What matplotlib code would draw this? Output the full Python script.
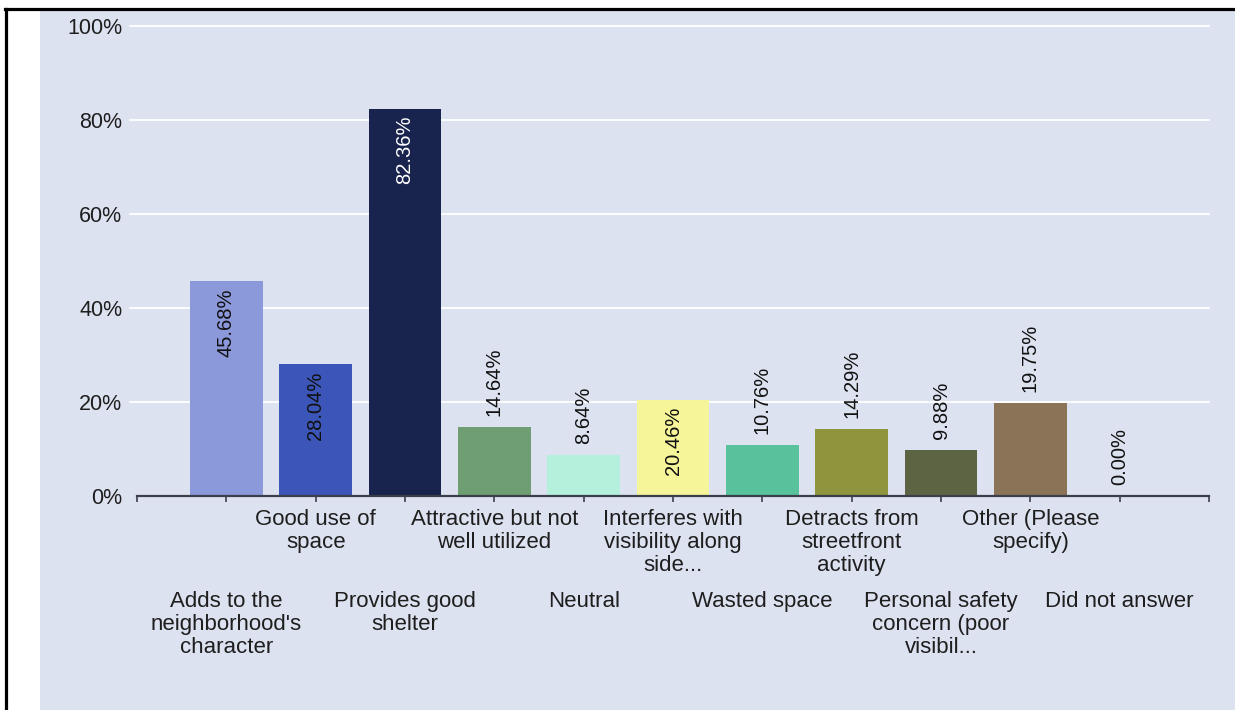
import matplotlib
matplotlib.use('Agg')
import matplotlib.pyplot as plt
import matplotlib.transforms as mtransforms
from matplotlib.patches import Rectangle
from matplotlib.lines import Line2D

categories = ["Adds to the\nneighborhood's\ncharacter", "Good use of\nspace", "Provides good\nshelter",
              "Attractive but not\nwell utilized", "Neutral", "Interferes with\nvisibility along\nside...",
              "Wasted space", "Detracts from\nstreetfront\nactivity", "Personal safety\nconcern (poor\nvisibil...",
              "Other (Please\nspecify)", "Did not answer"]
values = [45.68, 28.04, 82.36, 14.64, 8.64, 20.46, 10.76, 14.29, 9.88, 19.75, 0.00]
colors = ['#8b98da', '#3c55b8', '#18244e', '#6f9e72', '#b4f0dc', '#f7f59a',
          '#58c29d', '#8f953c', '#5c6444', '#8a7356', '#888888']
ytick_values = [0, 20, 40, 60, 80, 100]
ytick_labels = ['0%', '20%', '40%', '60%', '80%', '100%']

plt.rcParams['font.family'] = ['Liberation Sans', 'DejaVu Sans']
FS_LAB = 16
FS_Y = 15.5
FS_VAL = 14.5

W, H = 1235, 710
fig = plt.figure(figsize=(W / 100, H / 100), dpi=100)
fig.patch.set_facecolor('white')
fig.patches.append(Rectangle((40 / W, 0), 1 - 40 / W, (H - 11) / H, transform=fig.transFigure,
                             facecolor='#dde2f0', edgecolor='none', zorder=-10))
fig.lines.append(Line2D([5 / W, 1], [1 - 9 / H, 1 - 9 / H], color='black', lw=2.3,
                        transform=fig.transFigure, zorder=-5))
fig.lines.append(Line2D([6 / W, 6 / W], [0, 1 - 9 / H], color='black', lw=2.3,
                        transform=fig.transFigure, zorder=-5))

ax = fig.add_axes([137 / W, (H - 496) / H, (1209 - 137) / W, (496 - 26) / H])
ax.set_zorder(5)
ax.set_facecolor('none')
x = list(range(1, len(values) + 1))
ax.bar(x, values, width=0.81, color=colors, zorder=3)
ax.set_xlim(0, 12)
ax.set_ylim(0, 100)

for s in ['top', 'right', 'left']:
    ax.spines[s].set_visible(False)
ax.spines['bottom'].set_color('#3a3f4a')
ax.spines['bottom'].set_linewidth(1.6)
ax.spines['bottom'].set_zorder(5)

# gridlines
for yv in ytick_values[1:]:
    ax.plot([-7 / 1072 * 12, 12], [yv, yv], color='white', lw=1.3, zorder=1, clip_on=False)

ax.set_yticks(ytick_values)
ax.set_yticklabels(ytick_labels, fontsize=FS_Y, color='#1e1e1e')
ax.tick_params(axis='y', length=0, pad=10.5)

ax.set_xticks(range(0, 13))
ax.set_xticklabels([])
ax.tick_params(axis='x', length=4.5, width=1.2, color='#3a3f4a', direction='out')

trans = mtransforms.blended_transform_factory(ax.transData, ax.transAxes)
for i, lab in enumerate(categories):
    dy = -13 if i % 2 == 1 else -95
    off = mtransforms.ScaledTranslation(0, dy / 100, fig.dpi_scale_trans)
    ax.text(x[i], 0, lab, transform=trans + off, ha='center', va='top', fontsize=FS_LAB,
            color='#1e1e1e', linespacing=1.12)

for i, v in enumerate(values):
    txt = f"{v:.2f}%"
    if v >= 20:
        off = mtransforms.ScaledTranslation(0, -7 / 100, fig.dpi_scale_trans)
        col = 'white' if i == 2 else '#111111'
        ax.text(x[i], v, txt, transform=ax.transData + off, rotation=90, ha='center', va='top',
                fontsize=FS_VAL, color=col, zorder=6)
    else:
        off = mtransforms.ScaledTranslation(0, 11 / 100, fig.dpi_scale_trans)
        ax.text(x[i], v, txt, transform=ax.transData + off, rotation=90, ha='center', va='bottom',
                fontsize=FS_VAL, color='#111111', zorder=6)

fig.savefig('out.png', dpi=100, facecolor='white')
